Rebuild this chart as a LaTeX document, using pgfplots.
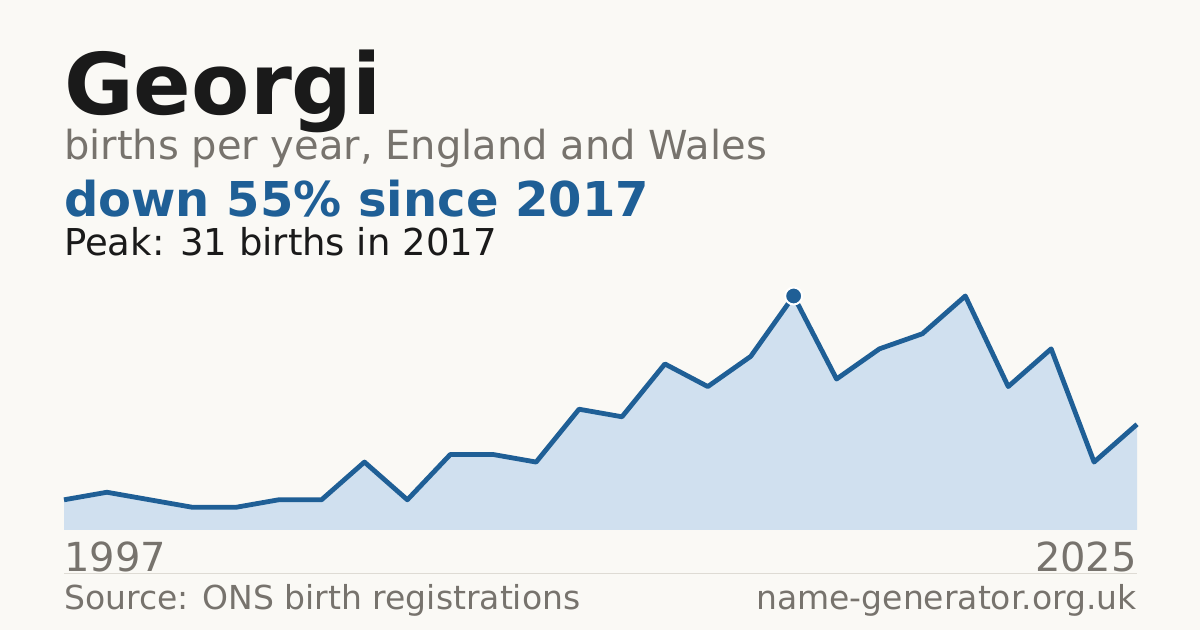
\documentclass[border=0pt]{standalone}
\usepackage{pgfplots}
\pgfplotsset{compat=1.18}
\usepackage{fontspec}
\setmainfont{DejaVu Sans}

\definecolor{bg}{HTML}{FAF9F5}
\definecolor{ink}{HTML}{1A1A1A}
\definecolor{muted}{HTML}{77736D}
\definecolor{accent}{HTML}{1F5F96}
\definecolor{area}{HTML}{D0E0EF}
\definecolor{rulecol}{HTML}{DEDBD4}

% births per year, index 0 = 1997 ... 25 = 2025
\pgfplotstableread{
i  n
0  4
1  5
2  4
3  3
4  3
5  4
6  4
7  9
8  4
9  10
10 10
11 9
12 16
13 15
14 22
15 19
16 23
17 31
18 20
19 24
20 26
21 31
22 19
23 24
24 9
25 14
}\births

\begin{document}
\begin{tikzpicture}[x=1bp,y=1bp]
\fill[bg] (0,0) rectangle (1200,630);

% header
\node[anchor=base west, inner sep=0, text=ink] at (64,515)
  {\fontsize{85bp}{85bp}\selectfont\bfseries Georgi};
\node[anchor=base west, inner sep=0, text=muted] at (64,470)
  {\fontsize{40bp}{40bp}\selectfont births per year, England and Wales};
\node[anchor=base west, inner sep=0, text=accent] at (64,413)
  {\fontsize{48bp}{48bp}\selectfont\bfseries down 55\% since 2017};
\node[anchor=base west, inner sep=0, text=ink] at (64,374)
  {\fontsize{37bp}{37bp}\selectfont Peak: 31 births in 2017};

\begin{axis}[
  at={(64bp,100bp)}, anchor=south west,
  scale only axis,
  width=1073bp, height=234bp,
  xmin=0, xmax=25, ymin=0, ymax=31,
  hide axis, clip=false,
]
\addplot[fill=area, draw=none] table[x=i, y=n] {\births} \closedcycle;
\addplot[accent, line width=4.8bp, line join=round] table[x=i, y=n] {\births};
\addplot[only marks, mark=*, mark size=8.5bp,
  mark options={fill=accent, draw=white, line width=2bp}] coordinates {(17,31)};
\end{axis}

% footer
\node[anchor=base west, inner sep=0, text=muted] at (64,58)
  {\fontsize{40bp}{40bp}\selectfont 1997};
\node[anchor=base east, inner sep=0, text=muted] at (1137,58)
  {\fontsize{40bp}{40bp}\selectfont 2025};
\draw[rulecol, line width=1bp] (64,56) -- (1137,56);
\node[anchor=base west, inner sep=0, text=muted] at (64,20)
  {\fontsize{33bp}{33bp}\selectfont Source: ONS birth registrations};
\node[anchor=base east, inner sep=0, text=muted] at (1137,20)
  {\fontsize{33bp}{33bp}\selectfont name-generator.org.uk};

\pgfresetboundingbox
\useasboundingbox (0,0) rectangle (1200,630);
\end{tikzpicture}
\end{document}
